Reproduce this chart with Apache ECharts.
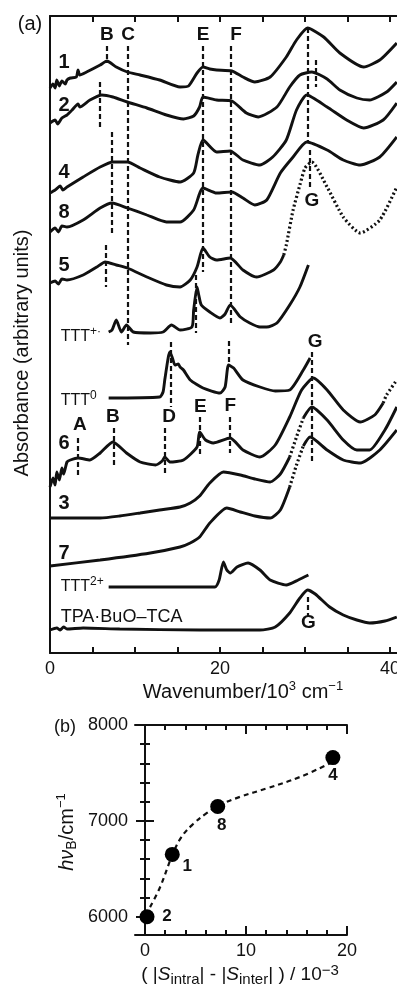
<!DOCTYPE html>
<html>
<head>
<meta charset="utf-8">
<script src="https://cdn.jsdelivr.net/npm/echarts@6/dist/echarts.min.js"></script>
<style>
html, body { margin: 0; padding: 0; background: #fff; }
#chart { width: 397px; height: 989px; }
</style>
</head>
<body>
<div id="chart"></div>
<script>
// (a) spectra: x = wavenumber / 10^3 cm^-1, y = absorbance (arbitrary units, stacked)
const spec1 = [[0,565],[0.35,569],[0.6,565],[0.8,573],[1.1,567],[1.4,572],[1.8,569],[2.0,573],[2.4,575],[3.1,576],[3.3,583],[3.5,578],[4.3,581],[5.9,588],[6.7,592],[7.8,586],[9.1,581],[10.6,578],[12.9,573],[15.3,566],[16.3,567],[17.3,580],[18.0,586],[18.8,584],[19.6,583],[21.4,582],[22.7,576],[24.1,571],[25.9,576],[27.8,596],[29.0,613],[30.3,625],[32.2,616],[34.1,600],[36.9,586],[38.8,593],[40.8,610]];
const spec2 = [[0,530],[0.6,533],[0.9,529],[1.4,535],[2.0,538],[2.6,543],[3.3,549],[3.5,546],[4.7,553],[6.1,558],[7.4,556],[9.1,551],[11.4,545],[13.7,538],[15.7,534],[16.9,537],[17.6,546],[18.0,556],[19.6,553],[21.4,552],[23.1,540],[24.5,536],[26.7,546],[28.2,566],[29.4,578],[30.8,581],[32.6,574],[34.1,563],[36.1,555],[37.6,553],[39.6,561],[40.8,571]];
const spec4 = [[0,460],[0.6,463],[1.2,467],[1.5,463],[2.0,466],[3.9,476],[5.9,486],[7.4,491],[9.1,491],[10.6,485],[12.9,476],[15.3,471],[16.9,480],[17.4,498],[18.0,513],[19.6,501],[21.2,502],[22.7,493],[24.7,488],[26.2,496],[27.8,513],[29.0,543],[30.2,558],[32.6,546],[34.9,533],[36.9,525],[39.2,533],[40.8,550]];
const spec8 = [[0,421],[0.6,425],[1.0,421],[1.4,427],[2.0,426],[3.9,433],[5.9,445],[7.3,450],[9.1,445],[11.4,438],[13.7,431],[15.3,431],[16.9,443],[18.0,465],[19.6,460],[21.4,461],[22.7,455],[24.1,448],[25.5,453],[27.1,480],[28.6,496],[30.2,511],[32.6,503],[34.5,493],[36.5,488],[38.8,496],[40.8,516]];
const spec5 = [[0,370],[0.6,372],[1.0,369],[1.4,374],[2.0,373],[3.9,378],[5.5,386],[6.5,391],[7.8,388],[9.1,385],[11.4,376],[13.7,368],[15.3,366],[16.5,373],[17.3,386],[18.0,405],[18.8,396],[19.6,393],[21.2,395],[22.7,383],[24.3,376],[26.3,383],[27.1,391],[27.5,398]];
const spec5Dot = [[27.5,398],[27.8,408],[28.6,443],[29.4,468],[30.0,485],[30.8,491],[32.6,466],[34.5,436],[36.5,420],[38.8,433],[40.8,466]];
const specTTTplus = [[6.9,321],[7.3,323],[7.8,333],[8.4,321],[9.0,328],[9.8,321],[11.8,320],[13.3,321],[14.3,328],[15.3,323],[16.7,326],[16.9,343],[17.3,366],[17.5,358],[17.8,348],[18.8,341],[20.0,335],[20.6,339],[21.2,348],[22.4,336],[23.5,330],[24.7,326],[25.5,326],[26.7,330],[28.2,348],[29.4,366],[30.4,388]];
const specTTT0 = [[6.9,255],[12.9,256],[13.3,261],[13.5,273],[13.9,295],[14.1,301],[14.4,295],[14.7,288],[15.1,289],[15.3,286],[15.7,283],[16.5,273],[18.0,265],[20.0,260],[20.6,266],[21.0,288],[21.6,285],[22.7,273],[24.7,266],[26.5,262],[28.2,263],[29.8,283],[30.6,295]];
const spec6 = [[0,166],[0.35,175],[0.6,168],[0.8,181],[1.1,173],[1.4,185],[1.6,179],[2.0,191],[2.4,193],[3.3,195],[4.7,193],[5.9,200],[7.4,211],[9.0,200],[10.6,191],[12.4,188],[13.2,192],[13.5,196],[14.1,191],[15.7,193],[17.3,206],[17.6,221],[18.3,213],[19.2,210],[21.2,215],[22.7,203],[24.7,196],[26.5,208],[28.2,236],[29.6,263],[31.0,275],[32.6,263],[34.5,243],[36.5,231],[38.2,238],[39.2,250]];
const spec6Dot = [[39.2,250],[39.6,258],[40.8,273]];
const spec3 = [[0,135],[5.9,135],[8.2,137],[10.6,140],[12.9,143],[15.3,146],[16.5,150],[17.6,157],[18.8,170],[20.4,181],[22.4,178],[24.1,174],[25.9,171],[27.1,179],[28.2,196]];
const spec3Dot = [[28.2,196],[29.0,216],[29.8,235]];
const spec3End = [[29.8,235],[30.8,246],[32.6,233],[34.5,213],[36.1,203],[37.6,203],[39.4,223],[40.8,246]];
const spec7 = [[0,87],[5.9,93],[11.8,100],[15.3,106],[16.5,110],[17.6,116],[18.8,130],[20.8,145],[22.4,141],[24.1,137],[25.9,135],[27.1,143],[28.2,166]];
const spec7Dot = [[28.2,166],[29.0,188],[29.8,207]];
const spec7End = [[29.8,207],[30.6,216],[32.6,203],[34.5,193],[36.5,190],[38.8,203],[40.8,223]];
const specTTT2plus = [[6.9,66],[19.4,66],[19.9,73],[20.4,91],[20.8,83],[21.2,80],[22.0,86],[23.3,90],[24.7,83],[25.9,73],[27.8,68],[29.2,73],[30.4,78]];
const specTPA = [[0,23],[0.8,25],[1.2,23],[1.6,26],[2.0,24],[3.9,25],[8.2,24],[17.6,23],[24.7,23],[26.5,26],[28.2,40],[29.4,55],[30.3,63],[31.2,59],[32.9,46],[34.5,38],[36.1,33],[37.6,30],[39.4,32],[40.8,36]];

// dashed band markers: [wavenumber, from, to]
const guides = [[6.7,607,590],[5.9,571,526],[9.2,607,308],[7.3,521,420],[6.5,408,366],[18.0,607,381],[17.2,378,320],[21.3,607,328],[30.3,625,510],[31.3,593,566],[30.6,503,463],[14.2,311,246],[21.0,312,286],[30.8,301,190],[3.3,215,178],[7.5,225,188],[13.5,225,178],[17.6,236,198],[21.2,236,200],[30.3,56,36]];
const bandTags = [['B',6.7,618],['C',9.2,618],['E',18.0,618],['F',21.9,618],['G',30.8,452],['G',31.2,311],['A',3.5,228],['B',7.4,236],['D',14.0,236],['E',17.7,246],['F',21.2,247],['G',30.4,30]];
const sampleTags = [['1',591],['2',548],['4',481],['8',441],['5',388],['6',210],['3',150],['7',100]];
const speciesTags = [['TTT','+·',316],['TTT','0',252],['TTT','2+',66],['TPA·BuO–TCA','',36]];

// (b) band B energy vs |S_intra| - |S_inter|
const bX = [0.2, 2.7, 7.2, 18.6];
const bY = [6000, 6650, 7150, 7660];
const bNames = ['2', '1', '8', '4'];
const fitX = [0.5, 1.5, 2.7, 3.6, 4.8, 6.1, 7.3, 9.4, 12.1, 15.4, 18.3];
const fitY = [6100, 6310, 6640, 6830, 6970, 7080, 7160, 7250, 7340, 7460, 7600];

const FONT = 'Liberation Sans';
const INK = '#111';

const chart = echarts.init(document.getElementById('chart'));

function spectrum(data, dotted) {
    return {
        type: 'line', xAxisIndex: 0, yAxisIndex: 0, data: data,
        smooth: 0.2, symbol: 'none', silent: true,
        lineStyle: dotted
            ? { color: INK, width: 3.2, type: [2, 2.5] }
            : { color: INK, width: 2.9 }
    };
}

const frameAxis = { show: true, lineStyle: { color: INK, width: 2 } };
const noTick = { show: false };
const noLabel = { show: false };
const noSplit = { show: false };
const hidden = { color: 'rgba(0,0,0,0)', opacity: 1 };

const supRich = {
    m: { fontSize: 16, lineHeight: 22, color: INK, fontFamily: FONT },
    s: { fontSize: 12, lineHeight: 12, verticalAlign: 'top', color: INK, fontFamily: FONT },
    t: { fontSize: 18, lineHeight: 22, color: INK, fontFamily: FONT }
};

const bTagOffset = [[20, 0], [15, 12], [4, 19], [0, 18]];

const option = {
    animation: false,
    backgroundColor: '#fff',
    grid: [
        { left: 50, top: 16, width: 357, height: 637, containLabel: false, outerBoundsMode: 'none' },
        { left: 135, top: 725, width: 212, height: 210, containLabel: false, outerBoundsMode: 'none' },
        { left: 145, top: 725, width: 202, height: 191.7, containLabel: false, outerBoundsMode: 'none' }
    ],
    xAxis: [
        {
            gridIndex: 0, type: 'value', min: 0, max: 42, interval: 5, position: 'bottom',
            axisLine: frameAxis,
            axisTick: { show: true, inside: true, length: 6, lineStyle: { color: INK, width: 2 } },
            axisLabel: { formatter: v => (v % 20 === 0 ? String(v) : ''), fontSize: 18, color: INK, fontFamily: FONT, margin: 7 },
            splitLine: noSplit
        },
        {
            gridIndex: 0, type: 'value', min: 0, max: 42, interval: 5, position: 'top',
            axisLine: frameAxis,
            axisTick: { show: true, inside: true, length: 6, lineStyle: { color: INK, width: 2 } },
            axisLabel: noLabel, splitLine: noSplit
        },
        { gridIndex: 1, type: 'value', min: -1, max: 20, position: 'bottom', axisLine: frameAxis, axisTick: noTick, axisLabel: noLabel, splitLine: noSplit },
        { gridIndex: 1, type: 'value', min: -1, max: 20, position: 'top', axisLine: frameAxis, axisTick: noTick, axisLabel: noLabel, splitLine: noSplit },
        {
            gridIndex: 2, type: 'value', min: 0, max: 20, interval: 10, position: 'bottom', offset: 18.3,
            axisLine: { show: false },
            axisTick: { show: true, inside: true, length: 9, lineStyle: { color: INK, width: 2 } },
            minorTick: { show: true, splitNumber: 5, length: 5, lineStyle: { color: INK, width: 2 } },
            axisLabel: { fontSize: 18, color: INK, fontFamily: FONT, margin: 7 },
            splitLine: noSplit, minorSplitLine: { show: false }
        },
        {
            gridIndex: 2, type: 'value', min: 0, max: 20, interval: 10, position: 'top',
            axisLine: { show: false },
            axisTick: { show: true, inside: true, length: 9, lineStyle: { color: INK, width: 2 } },
            minorTick: { show: true, splitNumber: 5, length: 5, lineStyle: { color: INK, width: 2 } },
            axisLabel: noLabel, splitLine: noSplit
        }
    ],
    yAxis: [
        { gridIndex: 0, type: 'value', min: 0, max: 637, axisLine: frameAxis, axisTick: noTick, axisLabel: noLabel, splitLine: noSplit },
        { gridIndex: 1, type: 'value', min: 5800, max: 8000, position: 'left', axisLine: frameAxis, axisTick: noTick, axisLabel: noLabel, splitLine: noSplit },
        { gridIndex: 1, type: 'value', min: 5800, max: 8000, position: 'right', axisLine: frameAxis, axisTick: noTick, axisLabel: noLabel, splitLine: noSplit },
        {
            gridIndex: 2, type: 'value', min: 6000, max: 8000, interval: 1000, position: 'left', offset: 10,
            axisLine: { show: false },
            axisTick: { show: true, inside: true, length: 9, lineStyle: { color: INK, width: 2 } },
            minorTick: { show: true, splitNumber: 5, length: 5, lineStyle: { color: INK, width: 2 } },
            axisLabel: { formatter: v => String(v), fontSize: 18, color: INK, fontFamily: FONT, margin: 7 },
            splitLine: noSplit
        },
        {
            gridIndex: 2, type: 'value', min: 6000, max: 8000, interval: 1000, position: 'right',
            axisLine: { show: false },
            axisTick: { show: true, inside: true, length: 9, lineStyle: { color: INK, width: 2 } },
            minorTick: { show: true, splitNumber: 5, length: 5, lineStyle: { color: INK, width: 2 } },
            axisLabel: noLabel, splitLine: noSplit
        }
    ],
    series: [
        spectrum(spec1), spectrum(spec2), spectrum(spec4), spectrum(spec8),
        spectrum(spec5), spectrum(spec5Dot, true),
        spectrum(specTTTplus), spectrum(specTTT0),
        spectrum(spec6), spectrum(spec6Dot, true),
        spectrum(spec3), spectrum(spec3Dot, true), spectrum(spec3End),
        spectrum(spec7), spectrum(spec7Dot, true), spectrum(spec7End),
        spectrum(specTTT2plus), spectrum(specTPA),
        {
            type: 'lines', coordinateSystem: 'cartesian2d', xAxisIndex: 0, yAxisIndex: 0, silent: true,
            lineStyle: { color: INK, width: 2.2, type: [5, 3], opacity: 1 },
            data: guides.map(g => ({ coords: [[g[0], g[1]], [g[0], g[2]]] }))
        },
        {
            type: 'scatter', xAxisIndex: 0, yAxisIndex: 0, symbolSize: 1, silent: true,
            itemStyle: hidden,
            label: { show: true, position: 'inside', formatter: p => p.name, fontSize: 19, fontWeight: 'bold', color: INK, fontFamily: FONT },
            data: bandTags.map(t => ({ name: t[0], value: [t[1], t[2]] }))
        },
        {
            type: 'scatter', xAxisIndex: 0, yAxisIndex: 0, symbolSize: 1, silent: true,
            itemStyle: hidden,
            label: { show: true, position: 'inside', formatter: p => p.name, fontSize: 20, fontWeight: 'bold', color: INK, fontFamily: FONT },
            data: sampleTags.map(t => ({ name: t[0], value: [1.65, t[1]] }))
        },
        {
            type: 'scatter', xAxisIndex: 0, yAxisIndex: 0, symbolSize: 1, silent: true,
            itemStyle: hidden,
            label: {
                show: true, position: 'right', distance: 0,
                formatter: p => {
                    const t = speciesTags[p.dataIndex];
                    return t[1] ? '{m|' + t[0] + '}{s|' + t[1] + '}' : '{t|' + t[0] + '}';
                },
                rich: supRich
            },
            data: speciesTags.map(t => ({ name: t[0], value: [1.2, t[2]] }))
        },
        {
            type: 'line', xAxisIndex: 4, yAxisIndex: 3, smooth: 0.4, symbol: 'none', silent: true, z: 2,
            lineStyle: { color: INK, width: 2.2, type: [5, 4] },
            data: fitX.map((x, i) => [x, fitY[i]])
        },
        {
            type: 'scatter', xAxisIndex: 4, yAxisIndex: 3, symbolSize: 15, silent: true, z: 3,
            itemStyle: { color: '#000', opacity: 1 },
            data: bX.map((x, i) => ({
                value: [x, bY[i]], name: bNames[i],
                label: {
                    show: true, position: 'inside', offset: bTagOffset[i],
                    formatter: p => p.name, fontSize: 17, fontWeight: 'bold', color: INK, fontFamily: FONT
                }
            }))
        }
    ],
    graphic: [
        { type: 'text', x: 30, y: 24, style: { text: '(a)', fontSize: 20, fontFamily: FONT, fill: INK, align: 'center', verticalAlign: 'middle' } },
        { type: 'text', x: 65, y: 727, style: { text: '(b)', fontSize: 18, fontFamily: FONT, fill: INK, align: 'center', verticalAlign: 'middle' } },
        {
            type: 'text', x: 22, y: 353, rotation: Math.PI / 2,
            style: { text: 'Absorbance (arbitrary units)', fontSize: 20, fontFamily: FONT, fill: INK, align: 'center', verticalAlign: 'middle' }
        },
        {
            type: 'text', x: 243, y: 692,
            style: {
                text: '{t|Wavenumber/10}{p|3}{t| cm}{p|−1}', align: 'center', verticalAlign: 'middle', fill: INK,
                rich: {
                    t: { fontSize: 20, lineHeight: 24, fontFamily: FONT, fill: INK },
                    p: { fontSize: 13, lineHeight: 13, verticalAlign: 'top', fontFamily: FONT, fill: INK }
                }
            }
        },
        {
            type: 'text', x: 67, y: 832, rotation: Math.PI / 2,
            style: {
                text: '{i|hν}{b|B}{t|/cm}{p|−1}', align: 'center', verticalAlign: 'middle', fill: INK,
                rich: {
                    i: { fontSize: 20, lineHeight: 24, fontStyle: 'italic', fontFamily: FONT, fill: INK },
                    t: { fontSize: 20, lineHeight: 24, fontFamily: FONT, fill: INK },
                    b: { fontSize: 14, lineHeight: 14, verticalAlign: 'bottom', fontFamily: FONT, fill: INK },
                    p: { fontSize: 13, lineHeight: 13, verticalAlign: 'top', fontFamily: FONT, fill: INK }
                }
            }
        },
        {
            type: 'text', x: 240, y: 975,
            style: {
                text: '{t|( |}{i|S}{b|intra}{t|| - |}{i|S}{b|inter}{t|| ) / 10}{p|−3}', align: 'center', verticalAlign: 'middle', fill: INK,
                rich: {
                    t: { fontSize: 19, lineHeight: 24, fontFamily: FONT, fill: INK },
                    i: { fontSize: 19, lineHeight: 24, fontStyle: 'italic', fontFamily: FONT, fill: INK },
                    b: { fontSize: 15, lineHeight: 15, verticalAlign: 'bottom', fontFamily: FONT, fill: INK },
                    p: { fontSize: 15, lineHeight: 15, verticalAlign: 'top', fontFamily: FONT, fill: INK }
                }
            }
        }
    ]
};

chart.setOption(option);
</script>
</body>
</html>
